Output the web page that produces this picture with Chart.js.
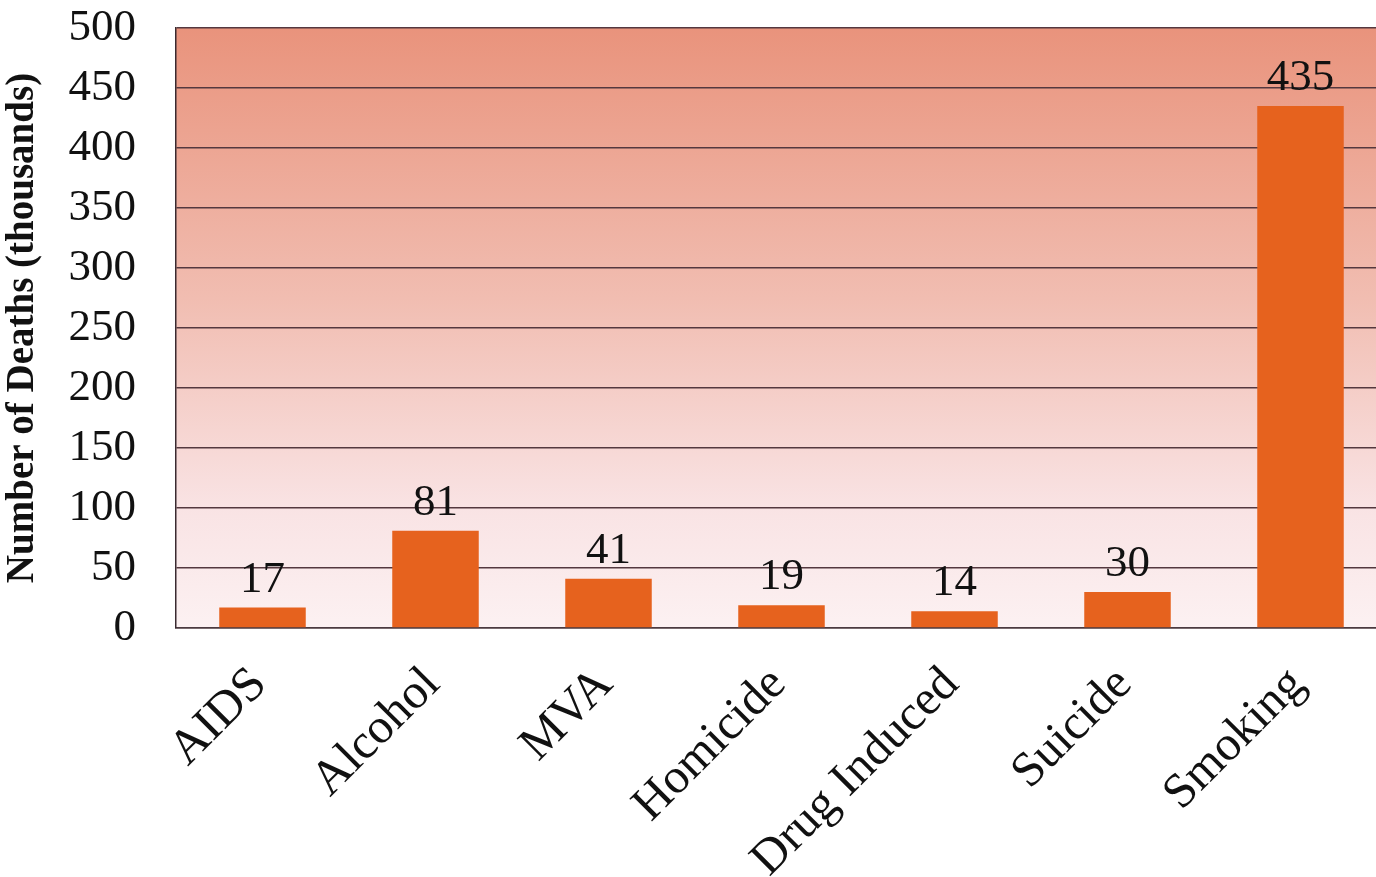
<!DOCTYPE html>
<html>
<head>
<meta charset="utf-8">
<script src="https://cdn.jsdelivr.net/npm/chart.js@4.4.0/dist/chart.umd.min.js"></script>
<style>
  html, body { margin: 0; padding: 0; background: #fff; overflow: hidden; }
  #wrap { width: 1390px; height: 877px; }
</style>
</head>
<body>
<div id="wrap"><canvas id="myChart"></canvas></div>
<script>
const categories = ['AIDS', 'Alcohol', 'MVA', 'Homicide', 'Drug Induced', 'Suicide', 'Smoking'];
const deaths = [17, 81, 41, 19, 14, 30, 435];
const yTicks = [0, 50, 100, 150, 200, 250, 300, 350, 400, 450, 500];

const serif = "'Liberation Serif', 'DejaVu Serif', serif";

// fill the plot area with the pink-to-salmon wash
const backdrop = {
  id: 'backdrop',
  beforeDraw(chart) {
    const { ctx, chartArea: a } = chart;
    const g = ctx.createLinearGradient(0, a.top, 0, a.bottom);
    g.addColorStop(0, '#e9937c');
    g.addColorStop(0.45, '#f1bdb1');
    g.addColorStop(0.8, '#f9e3e4');
    g.addColorStop(1, '#fcf1f2');
    ctx.save();
    ctx.fillStyle = g;
    ctx.fillRect(a.left, a.top, a.right - a.left, a.bottom - a.top);
    ctx.restore();
  }
};

// value over each bar
const barValues = {
  id: 'barValues',
  afterDatasetsDraw(chart) {
    const { ctx } = chart;
    const meta = chart.getDatasetMeta(0);
    ctx.save();
    ctx.font = '45px ' + serif;
    ctx.fillStyle = '#111';
    ctx.textAlign = 'center';
    ctx.textBaseline = 'alphabetic';
    meta.data.forEach((bar, i) => {
      ctx.fillText(String(deaths[i]), bar.x, bar.y - 16);
    });
    ctx.restore();
  }
};

const ctx = document.getElementById('myChart');

new Chart(ctx, {
  type: 'bar',
  data: {
    labels: categories,
    datasets: [{
      label: 'Deaths',
      data: deaths,
      backgroundColor: '#e6621e',
      borderWidth: 0,
      barPercentage: 0.5,
      categoryPercentage: 1
    }]
  },
  options: {
    responsive: true,
    maintainAspectRatio: false,
    animation: false,
    layout: { padding: { top: 28, left: 0, right: 3, bottom: 0 } },
    plugins: {
      legend: { display: false },
      tooltip: { enabled: false }
    },
    scales: {
      x: {
        grid: { display: false, drawTicks: false },
        border: { display: true, color: '#4a3a40', width: 1.5 },
        ticks: {
          color: '#111',
          font: { family: serif, size: 49 },
          maxRotation: 45,
          minRotation: 45,
          autoSkip: false,
          padding: 28,
          labelOffset: -3
        },
        afterFit(scale) {
          scale.height = 249;
          scale.paddingTop = 0;
          scale.paddingBottom = 0;
        }
      },
      y: {
        min: 0,
        max: 500,
        afterBuildTicks(scale) { scale.ticks = yTicks.map(v => ({ value: v })); },
        grid: { color: '#54383f', lineWidth: 1.5, drawTicks: false },
        border: { display: true, color: '#3a2a30', width: 1.5 },
        ticks: {
          color: '#111',
          font: { family: serif, size: 45 },
          padding: 40,
          autoSkip: false
        },
        title: {
          display: true,
          text: 'Number of Deaths (thousands)',
          color: '#111',
          font: { family: serif, size: 39, weight: 'bold' },
          padding: { top: 0, bottom: 0 }
        },
        afterFit(scale) {
          scale.width = 176;
          scale.paddingTop = 0;
          scale.paddingBottom = 0;
        }
      }
    }
  },
  plugins: [backdrop, barValues]
});
</script>
</body>
</html>
